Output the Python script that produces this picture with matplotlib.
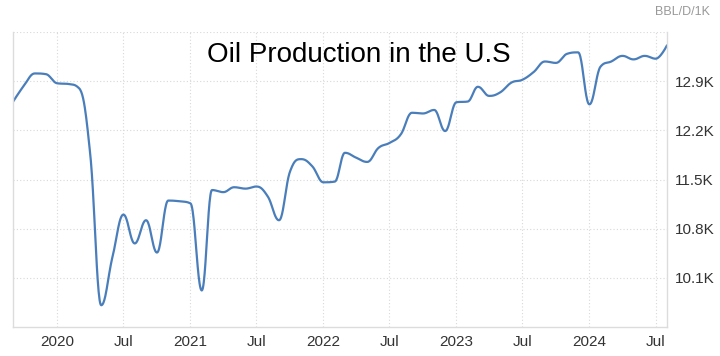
import numpy as np
import pandas as pd
import matplotlib
matplotlib.use("Agg")
import matplotlib.pyplot as plt
import matplotlib.dates as mdates

# monthly US crude oil production, thousand barrels per day (in K)
months = pd.date_range("2019-09-01", "2024-08-01", freq="MS")
production = [
    12.60, 12.83, 13.01, 13.00,                      # 2019 Sep-Dec
    12.87, 12.86, 12.80, 11.85, 9.71, 10.40,         # 2020 Jan-Jun
    11.00, 10.59, 10.92, 10.46, 11.20, 11.19,        # 2020 Jul-Dec
    11.16, 9.92, 11.35, 11.32, 11.39, 11.37,         # 2021 Jan-Jun
    11.40, 11.26, 10.92, 11.61, 11.79, 11.69,        # 2021 Jul-Dec
    11.46, 11.47, 11.88, 11.81, 11.75, 11.95,        # 2022 Jan-Jun
    12.02, 12.14, 12.45, 12.44, 12.49, 12.19,        # 2022 Jul-Dec
    12.60, 12.61, 12.82, 12.69, 12.74, 12.88,        # 2023 Jan-Jun
    12.92, 13.03, 13.18, 13.16, 13.29, 13.31,        # 2023 Jul-Dec
    12.57, 13.11, 13.18, 13.26, 13.21, 13.26,        # 2024 Jan-Jun
    13.22, 13.41,                                    # 2024 Jul-Aug
]

y_ticks = [10.1, 10.8, 11.5, 12.2, 12.9, 13.6]
y_labels = ["10.1K", "10.8K", "11.5K", "12.2K", "12.9K", ""]
x_tick_dates = pd.to_datetime(["2020-01-01", "2020-07-01", "2021-01-01", "2021-07-01",
                               "2022-01-01", "2022-07-01", "2023-01-01", "2023-07-01",
                               "2024-01-01", "2024-07-01"])
x_labels = ["2020", "Jul", "2021", "Jul", "2022", "Jul", "2023", "Jul", "2024", "Jul"]


def spline_path(xs, ys, smoothing=1.5, steps=24):
    """Bezier spline through the points, same idea as a highcharts 'spline'."""
    n = len(xs)
    lcx, lcy = np.array(xs, float), np.array(ys, float)
    rcx, rcy = lcx.copy(), lcy.copy()
    denom = smoothing + 1
    for i in range(1, n - 1):
        px, py = xs[i], ys[i]
        lx, ly, nx, ny = xs[i - 1], ys[i - 1], xs[i + 1], ys[i + 1]
        l_x = (smoothing * px + lx) / denom
        l_y = (smoothing * py + ly) / denom
        r_x = (smoothing * px + nx) / denom
        r_y = (smoothing * py + ny) / denom
        corr = (r_y - l_y) * (r_x - px) / (r_x - l_x) + py - r_y
        l_y += corr
        r_y += corr
        if l_y > ly and l_y > py:
            l_y = max(ly, py); r_y = 2 * py - l_y
        elif l_y < ly and l_y < py:
            l_y = min(ly, py); r_y = 2 * py - l_y
        if r_y > ny and r_y > py:
            r_y = max(ny, py); l_y = 2 * py - r_y
        elif r_y < ny and r_y < py:
            r_y = min(ny, py); l_y = 2 * py - r_y
        lcx[i], lcy[i], rcx[i], rcy[i] = l_x, l_y, r_x, r_y

    t = np.linspace(0, 1, steps)[:, None]
    out_x, out_y = [xs[0]], [ys[0]]
    for i in range(1, n):
        p = np.array([[xs[i - 1], ys[i - 1]], [rcx[i - 1], rcy[i - 1]],
                      [lcx[i], lcy[i]], [xs[i], ys[i]]])
        c = ((1 - t) ** 3) * p[0] + 3 * ((1 - t) ** 2) * t * p[1] \
            + 3 * (1 - t) * t ** 2 * p[2] + t ** 3 * p[3]
        out_x.extend(c[1:, 0])
        out_y.extend(c[1:, 1])
    return np.array(out_x), np.array(out_y)


plt.rcParams["font.family"] = ["Liberation Sans", "DejaVu Sans"]

fig = plt.figure(figsize=(7.2, 3.56), dpi=100)
ax = fig.add_axes([12.7 / 720, 29 / 356, (667 - 12.7) / 720, (327 - 32) / 356])

xn = mdates.date2num(months)
sx, sy = spline_path(list(xn), production)
ax.plot(sx, sy, color="#4a7ebb", lw=1.6, solid_capstyle="round")

ax.set_xlim(xn[0], xn[-1])
ax.set_ylim(9.4, 13.6)

ax.yaxis.tick_right()
ax.set_yticks(y_ticks)
ax.set_yticklabels(y_labels)
ax.set_xticks(mdates.date2num(x_tick_dates))
ax.set_xticklabels(x_labels)
ax.tick_params(length=0, labelsize=11, labelcolor="#333333")
ax.tick_params(axis="y", pad=6)
ax.tick_params(axis="x", pad=6)

ax.grid(True, linestyle=(0, (1, 2)), color="#d8d8d8", lw=0.8)
ax.set_axisbelow(True)
for side in ["left", "bottom", "right"]:
    ax.spines[side].set_color("#dcdcdc")
    ax.spines[side].set_linewidth(1)
ax.spines["top"].set_visible(False)

fig.text(359 / 720, 1 - 55 / 356, "Oil Production in the U.S", ha="center", va="center",
         fontsize=20, color="black")
fig.text(710 / 720, 1 - 12 / 356, "BBL/D/1K", ha="right", va="center",
         fontsize=9, color="#999999")

fig.savefig("out.png", dpi=100)
